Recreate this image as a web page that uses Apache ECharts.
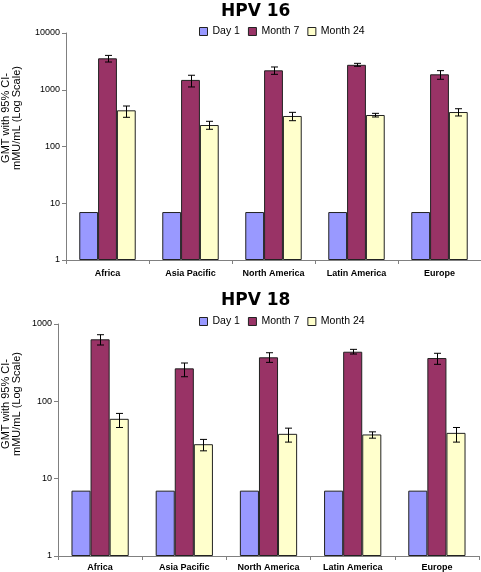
<!DOCTYPE html>
<html>
<head>
<meta charset="utf-8">
<script src="https://cdn.jsdelivr.net/npm/echarts@6/dist/echarts.min.js"></script>
<style>html,body{margin:0;padding:0;background:#fff;}#c{width:481px;height:572px;}</style>
</head>
<body>
<div id="c"></div>
<script>
const categories = ['Africa', 'Asia Pacific', 'North America', 'Latin America', 'Europe'];
const seriesNames = ['Day 1', 'Month 7', 'Month 24'];
const yTickLabels16 = ['1', '10', '100', '1000', '10000'];
const yTickLabels18 = ['1', '10', '100', '1000'];

const hpv16Day1 = [7, 7, 7, 7, 7];
const hpv16Month7 = [3580, 1490, 2200, 2750, 1870];
const hpv16Month7Low = [3080, 1120, 1870, 2590, 1530];
const hpv16Month7High = [4030, 1800, 2520, 2920, 2170];
const hpv16Month24 = [434, 239, 345, 359, 405];
const hpv16Month24Low = [327, 201, 285, 331, 345];
const hpv16Month24High = [517, 278, 400, 384, 463];

const hpv18Day1 = [7, 7, 7, 7, 7];
const hpv18Month7 = [634, 267, 371, 438, 363];
const hpv18Month7Low = [535, 208, 319, 409, 301];
const hpv18Month7High = [727, 313, 425, 470, 418];
const hpv18Month24 = [59.4, 27.9, 38, 37.3, 39.1];
const hpv18Month24Low = [45.9, 22.9, 29.7, 33.4, 29.7];
const hpv18Month24High = [69.8, 32.2, 45, 40.3, 45.9];

const colors = ['#9999FF', '#993366', '#FFFFCC'];
const GAP = 0.32;
const FONT = 'Liberation Sans, Arial, sans-serif';

function errData(lo, hi) {
  return lo.map((v, i) => [i, v, hi[i]]);
}
function errSeries(idx, lo, hi, barIndex) {
  return {
    type: 'custom', xAxisIndex: idx, yAxisIndex: idx, z: 10, silent: true,
    data: errData(lo, hi),
    encode: { x: 0, y: [1, 2] },
    renderItem: function (params, api) {
      const i = api.value(0);
      const bandW = api.size([1, 1])[0];
      const barW = bandW * (1 - GAP) / 3;
      const off = (barIndex - 1) * barW;
      const pLo = api.coord([i, api.value(1)]);
      const pHi = api.coord([i, api.value(2)]);
      const x = Math.round(pLo[0] + off) + 0.5;
      const c = 3.5;
      const st = { stroke: '#000', lineWidth: 1 };
      return {
        type: 'group', children: [
          { type: 'line', shape: { x1: x, y1: pLo[1], x2: x, y2: pHi[1] }, style: st },
          { type: 'line', shape: { x1: x - c, y1: pLo[1], x2: x + c, y2: pLo[1] }, style: st },
          { type: 'line', shape: { x1: x - c, y1: pHi[1], x2: x + c, y2: pHi[1] }, style: st }
        ]
      };
    }
  };
}
function barSeries(idx, name, data, ci) {
  return {
    type: 'bar', name: name, xAxisIndex: idx, yAxisIndex: idx, data: data,
    barGap: '0%', barCategoryGap: (GAP * 100) + '%',
    itemStyle: { color: colors[ci], borderColor: '#222', borderWidth: 1 }
  };
}
function xAxis(idx, margin) {
  return {
    type: 'category', gridIndex: idx, data: categories,
    axisLine: { lineStyle: { color: '#808080', width: 1 } },
    axisTick: { show: true, length: 4, lineStyle: { color: '#808080' } },
    axisLabel: { fontFamily: FONT, fontSize: 9, fontWeight: 'bold', color: '#000', margin: margin }
  };
}
function yAxis(idx, max, labels) {
  return {
    type: 'log', logBase: 10, gridIndex: idx, min: 1, max: max,
    axisLine: { show: true, lineStyle: { color: '#808080', width: 1 } },
    axisTick: { show: true, length: 4, lineStyle: { color: '#808080' } },
    minorTick: { show: false },
    splitLine: { show: false },
    axisLabel: {
      fontFamily: FONT, fontSize: 9, color: '#000', margin: 6,
      formatter: function (v) {
        const k = Math.round(Math.log10(v));
        return labels[k] !== undefined ? labels[k] : String(v);
      }
    }
  };
}
const axisName = 'GMT with 95% CI-\nmMU/mL (Log Scale)';
const legendBase = {
  data: seriesNames, left: 199, padding: 0, itemGap: 8, itemWidth: 8, itemHeight: 8, icon: 'rect',
  itemStyle: { borderColor: '#222', borderWidth: 1 },
  textStyle: { fontFamily: FONT, fontSize: 10.5, color: '#000' }
};
const titleStyle = { fontFamily: 'DejaVu Sans', fontWeight: 'bold', fontSize: 17, color: '#000' };
const option = {
  animation: false,
  title: [
    { text: 'HPV 16', left: 221, top: 3, padding: 0, textStyle: titleStyle },
    { text: 'HPV 18', left: 221, top: 292, padding: 0, textStyle: titleStyle }
  ],
  legend: [
    Object.assign({}, legendBase, { top: 26 }),
    Object.assign({}, legendBase, { top: 316 })
  ],
  grid: [
    { left: 66, right: 0, top: 33, bottom: 312 },
    { left: 58, right: 2, top: 324, bottom: 16 }
  ],
  xAxis: [xAxis(0, 9), xAxis(1, 7)],
  yAxis: [yAxis(0, 10000, yTickLabels16), yAxis(1, 1000, yTickLabels18)],
  graphic: [
    { type: 'text', x: 11, y: 118, rotation: Math.PI / 2,
      style: { text: axisName, fontFamily: FONT, fontSize: 11, lineHeight: 11, fill: '#000', align: 'center', verticalAlign: 'middle' } },
    { type: 'text', x: 11, y: 404, rotation: Math.PI / 2,
      style: { text: axisName, fontFamily: FONT, fontSize: 11, lineHeight: 11, fill: '#000', align: 'center', verticalAlign: 'middle' } }
  ],
  series: [
    barSeries(0, 'Day 1', hpv16Day1, 0),
    barSeries(0, 'Month 7', hpv16Month7, 1),
    barSeries(0, 'Month 24', hpv16Month24, 2),
    errSeries(0, hpv16Month7Low, hpv16Month7High, 1),
    errSeries(0, hpv16Month24Low, hpv16Month24High, 2),
    barSeries(1, 'Day 1', hpv18Day1, 0),
    barSeries(1, 'Month 7', hpv18Month7, 1),
    barSeries(1, 'Month 24', hpv18Month24, 2),
    errSeries(1, hpv18Month7Low, hpv18Month7High, 1),
    errSeries(1, hpv18Month24Low, hpv18Month24High, 2)
  ]
};
const chart = echarts.init(document.getElementById('c'), null, { renderer: 'canvas' });
chart.setOption(option);
</script>
</body>
</html>
